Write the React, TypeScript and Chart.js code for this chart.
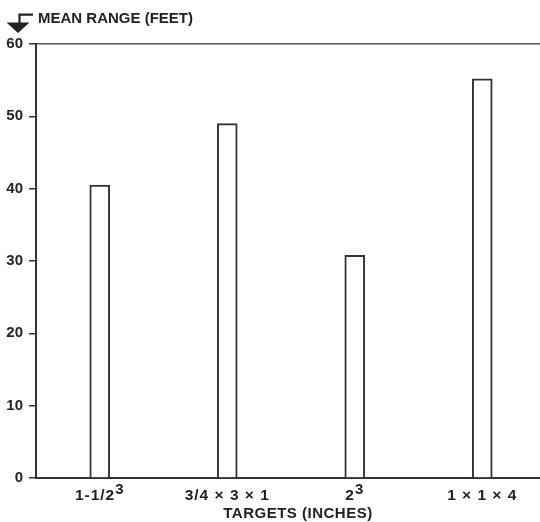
import React, { useEffect, useRef } from "react";
import { Chart, registerables } from "chart.js";

Chart.register(...registerables);

const categories = ["1-1/2³", "3/4 × 3 × 1", "2³", "1 × 1 × 4"];
const meanRange = [40.5, 49, 30.8, 55.2];
const yTicks = [0, 10, 20, 30, 40, 50, 60];
const yTitle = "MEAN RANGE (FEET)";
const xTitle = "TARGETS (INCHES)";

const INK = "#222";
const LINE = "#333";
const FAMILY = '"Liberation Sans", Arial, sans-serif';

const headerPlugin = {
  id: "header",
  afterDraw(chart: any) {
    const ctx = chart.ctx as CanvasRenderingContext2D;
    ctx.save();
    ctx.fillStyle = INK;
    ctx.strokeStyle = INK;
    ctx.lineWidth = 2.2;
    ctx.beginPath();
    ctx.moveTo(33, 14.7);
    ctx.lineTo(19.5, 14.7);
    ctx.lineTo(19.5, 23);
    ctx.stroke();
    ctx.beginPath();
    ctx.moveTo(6.5, 22.5);
    ctx.lineTo(29.5, 22.5);
    ctx.lineTo(18, 33);
    ctx.closePath();
    ctx.fill();
    ctx.font = `bold 15px ${FAMILY}`;
    ctx.textBaseline = "alphabetic";
    ctx.textAlign = "left";
    ctx.fillText(yTitle, 38, 23);

    // x tick labels with real superscripts
    const xs = chart.scales.x;
    const area = chart.chartArea;
    (ctx as any).letterSpacing = "1px";
    categories.forEach((label, i) => {
      const m = label.match(/^(.*?)([³²]?)$/);
      const base = m ? m[1] : label;
      const sup = m && m[2] ? (m[2] === "³" ? "3" : "2") : "";
      ctx.font = `bold 15.5px ${FAMILY}`;
      const wb = ctx.measureText(base).width;
      ctx.font = `bold 15px ${FAMILY}`;
      const ws = sup ? ctx.measureText(sup).width : 0;
      const total = wb + ws;
      const cx = xs.getPixelForTick(i);
      const x0 = cx - total / 2;
      ctx.font = `bold 15.5px ${FAMILY}`;
      ctx.fillText(base, x0, area.bottom + 22);
      if (sup) {
        ctx.font = `bold 15px ${FAMILY}`;
        ctx.fillText(sup, x0 + wb, area.bottom + 15.5);
      }
    });
    (ctx as any).letterSpacing = "0.5px";
    ctx.font = `bold 15px ${FAMILY}`;
    ctx.textAlign = "center";
    ctx.fillText(xTitle, 298, 518);
    ctx.restore();
  },
};

export default function App() {
  const ref = useRef<HTMLCanvasElement | null>(null);

  useEffect(() => {
    if (!ref.current) return;
    const chart = new Chart(ref.current, {
      type: "bar",
      data: {
        labels: categories,
        datasets: [
          {
            data: meanRange,
            backgroundColor: "#ffffff",
            borderColor: LINE,
            borderWidth: 2,
            barThickness: 20,
          },
        ],
      },
      plugins: [headerPlugin],
      options: {
        responsive: false,
        animation: false,
        devicePixelRatio: 1,
        layout: { padding: { top: 44, right: 0, left: 0, bottom: 0 } },
        plugins: {
          legend: { display: false },
          tooltip: { enabled: false },
          title: { display: false },
        },
        scales: {
          x: {
            type: "category",
            grid: {
              display: true,
              color: "rgba(0,0,0,0)",
              drawTicks: false,
            },
            border: { display: true, color: LINE, width: 2 },
            ticks: { display: false },
            title: { display: false },
            afterFit(scale: any) {
              scale.height = 44;
            },
          },
          y: {
            type: "linear",
            min: 0,
            max: 60,
            afterBuildTicks(scale: any) {
              scale.ticks = yTicks.map((v) => ({ value: v }));
            },
            grid: {
              display: true,
              color: (c: any) =>
                c.tick && c.tick.value === 60 ? "#555" : "rgba(0,0,0,0)",
              lineWidth: 1.5,
              drawTicks: true,
              tickLength: 7,
              tickColor: LINE,
              tickWidth: 1.5,
            },
            border: { display: true, color: LINE, width: 2 },
            ticks: {
              color: INK,
              padding: 6,
              font: { family: FAMILY, size: 15, weight: "bold" },
            },
            afterFit(scale: any) {
              scale.width = 36;
            },
          },
        },
      },
    } as any);
    return () => chart.destroy();
  }, []);

  return (
    <div
      style={{
        position: "fixed",
        left: 0,
        top: 0,
        width: 540,
        height: 522,
        overflow: "hidden",
        background: "#fff",
      }}
    >
      <canvas ref={ref} width={546} height={522} style={{ display: "block" }} />
    </div>
  );
}
